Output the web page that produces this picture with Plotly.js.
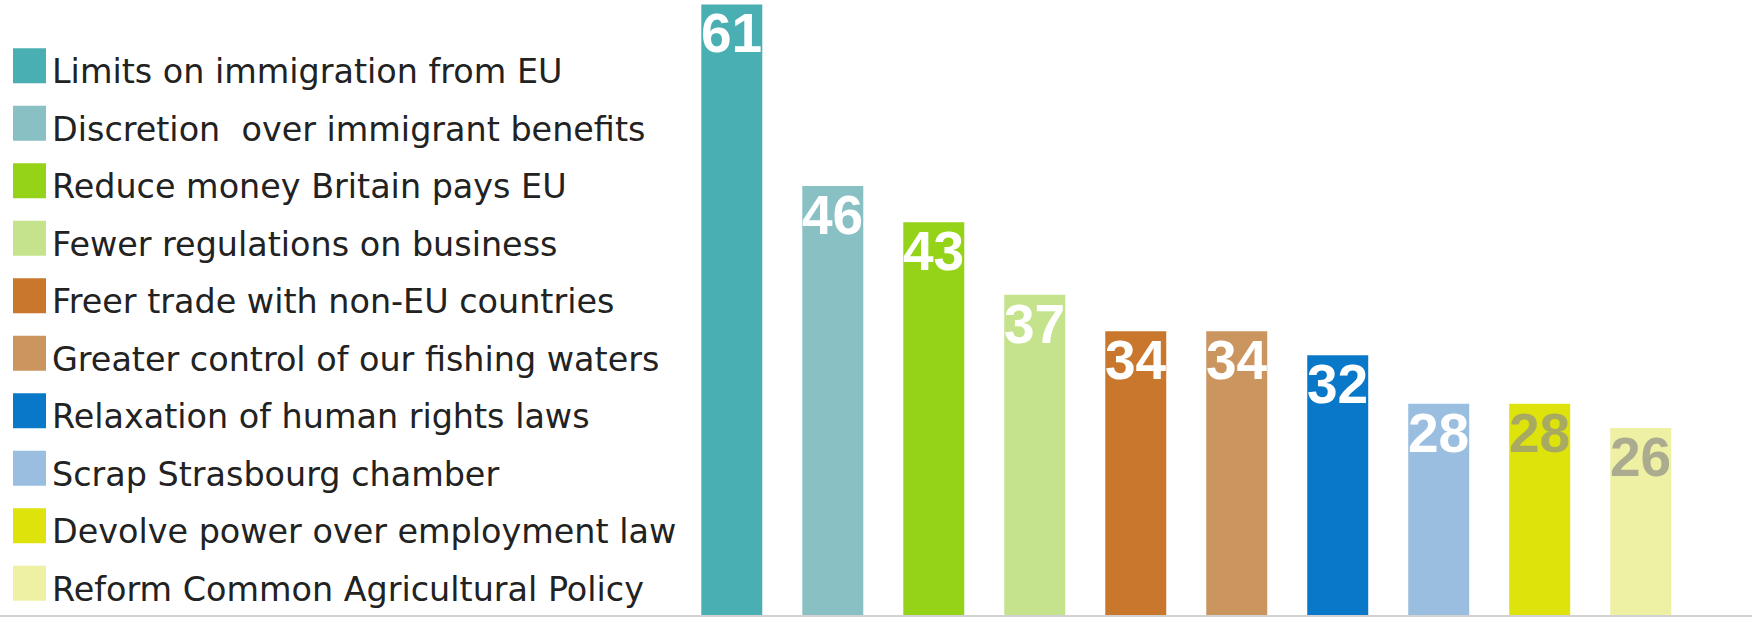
<!DOCTYPE html>
<html>
<head>
<meta charset="utf-8">
<script src="https://cdn.plot.ly/plotly-3.0.1.min.js"></script>
<style>
  html, body { margin: 0; padding: 0; background: #ffffff; }
  #chart { width: 1752px; height: 617px; }
</style>
</head>
<body>
<div id="chart"></div>
<script>
// ---- Data ----
const categories = [
  "Limits on immigration from EU",
  "Discretion  over immigrant benefits",
  "Reduce money Britain pays EU",
  "Fewer regulations on business",
  "Freer trade with non-EU countries",
  "Greater control of our fishing waters",
  "Relaxation of human rights laws",
  "Scrap Strasbourg chamber",
  "Devolve power over employment law",
  "Reform Common Agricultural Policy"
];
const values = [61, 46, 43, 37, 34, 34, 32, 28, 28, 26];
const valueLabels = ["61", "46", "43", "37", "34", "34", "32", "28", "28", "26"];
const barColors = [
  "#4aafb3", "#88c0c3", "#94d318", "#c5e38d", "#c9772d",
  "#cb9560", "#0a78c8", "#99bedf", "#dee30c", "#eef1a3"
];
const labelColors = [
  "#ffffff", "#ffffff", "#ffffff", "#ffffff", "#ffffff",
  "#ffffff", "#ffffff", "#ffffff", "#a9aa62", "#abab8f"
];

// ---- Layout helpers (pixel -> paper) ----
const W = 1752, H = 617, MB = 1;
const PH = H - MB;               // plot/paper height in px
const px = v => v / W;           // x pixel -> paper (margins l=r=0)
const py = v => (PH - v) / PH;   // y pixel -> paper

const barTrace = {
  type: "bar",
  x: categories,
  y: values,
  textposition: "none",
  cliponaxis: true,
  marker: { color: barColors, line: { width: 0 } },
  hoverinfo: "none",
  showlegend: false
};

const shapes = [];
const annotations = [];

// value labels, placed in data coordinates at the top of each bar
categories.forEach((cat, i) => {
  annotations.push({
    xref: "x", yref: "y",
    x: cat, y: values[i],
    xanchor: "center", yanchor: "top",
    yshift: 2,
    borderpad: 0, borderwidth: 0,
    text: valueLabels[i],
    showarrow: false,
    font: {
      family: "'Liberation Sans Narrow', 'Arial Narrow', 'Liberation Sans', Arial, sans-serif",
      size: 55, color: labelColors[i], weight: "bold"
    }
  });
});

// legend: colour squares + labels
categories.forEach((cat, i) => {
  const top = 48.3 + 57.5 * i;
  shapes.push({
    type: "rect", xref: "paper", yref: "paper",
    x0: px(13), x1: px(46), y0: py(top + 35), y1: py(top),
    fillcolor: barColors[i], line: { width: 0 }, layer: "above"
  });
  annotations.push({
    xref: "paper", yref: "paper",
    x: px(50), y: py(top + 23.5),
    xanchor: "left", yanchor: "middle",
    text: cat.replace(/  /g, " \u00a0"),
    showarrow: false,
    font: { family: "'DejaVu Sans', Verdana, sans-serif", size: 33.4, color: "#222222" }
  });
});

// bottom grey rule across the whole image
shapes.push({
  type: "line", xref: "paper", yref: "paper",
  x0: 0, x1: 1, y0: py(616), y1: py(616),
  line: { color: "#d2d2d2", width: 2 }, layer: "above"
});

const layout = {
  width: W, height: H,
  margin: { l: 0, r: 0, t: 0, b: MB, pad: 0 },
  paper_bgcolor: "#ffffff",
  plot_bgcolor: "#ffffff",
  bargap: 0.396,
  xaxis: {
    domain: [px(681.3), px(1691.2)],
    showticklabels: false, showgrid: false, zeroline: false,
    showline: false, ticks: "", fixedrange: true
  },
  yaxis: {
    range: [10.46, 61.37],
    visible: false, showgrid: false, zeroline: false, fixedrange: true
  },
  shapes: shapes,
  annotations: annotations,
  showlegend: false
};

Plotly.newPlot("chart", [barTrace], layout, { displayModeBar: false, staticPlot: true });
</script>
</body>
</html>
